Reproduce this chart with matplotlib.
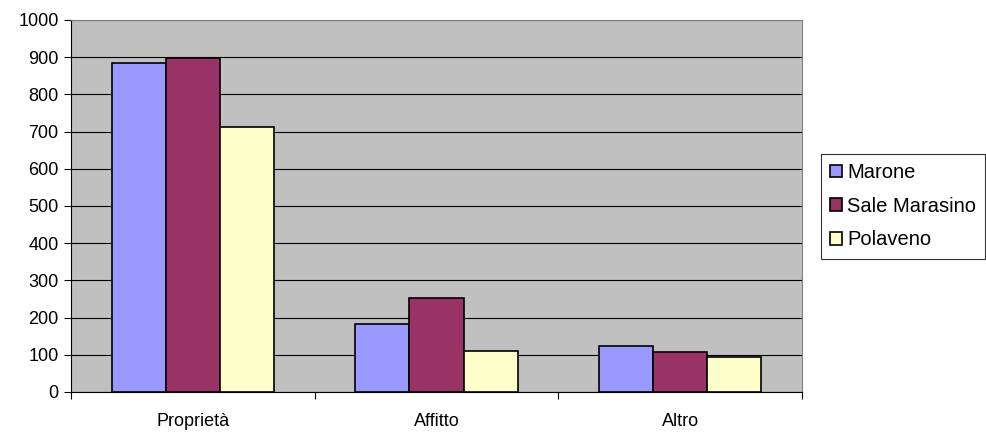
import numpy as np
from matplotlib import pyplot as plt

categories = ['Proprietà', 'Affitto', 'Altro']
marone = [885, 182, 124]
sale_marasino = [898, 252, 107]
polaveno = [712, 111, 93]
series_names = ['Marone', 'Sale Marasino', 'Polaveno']
colors = ['#9999FF', '#993366', '#FFFFCC']


def main():
  plt.rcParams['font.family'] = ['Liberation Sans', 'DejaVu Sans']
  fig = plt.figure(figsize=(9.87, 4.32), dpi=100)
  ax = fig.add_axes([0.072, 0.0926, 0.7406, 0.8612])

  ind = np.arange(len(categories))
  width = 1 / 4.5
  for i, vals in enumerate([marone, sale_marasino, polaveno]):
    ax.bar(ind + (i - 1) * width, vals, width, color=colors[i],
           edgecolor='black', linewidth=1.2, label=series_names[i], zorder=3)

  ax.set_facecolor('#C0C0C0')
  ax.set_xlim(-0.5, 2.5)
  ax.set_ylim(0, 1000)
  ax.set_yticks(np.arange(0, 1001, 100))
  ax.yaxis.grid(True, color='black', linewidth=0.8, zorder=0)

  ax.set_xticks(ind)
  ax.set_xticklabels(categories)
  ax.set_xticks(np.arange(-0.5, 3, 1), minor=True)
  ax.tick_params(axis='x', which='major', length=0, pad=15, labelsize=13)
  ax.tick_params(axis='x', which='minor', length=5, width=0.8)
  ax.tick_params(axis='y', length=5, width=0.8, labelsize=13, pad=4)

  for s in ['left', 'bottom']:
    ax.spines[s].set_color('black')
  for s in ['top', 'right']:
    ax.spines[s].set_color('#808080')

  leg = fig.legend(loc='upper left', bbox_to_anchor=(0.832, 0.6435),
                   frameon=True, fancybox=False, edgecolor='black',
                   fontsize=14.5, handlelength=0.6, handleheight=0.6,
                   handletextpad=0.25, borderpad=0.45, labelspacing=0.73,
                   borderaxespad=0)
  leg.get_frame().set_linewidth(0.8)

  plt.savefig('out.png', dpi=100)


if __name__ == '__main__':
  main()
